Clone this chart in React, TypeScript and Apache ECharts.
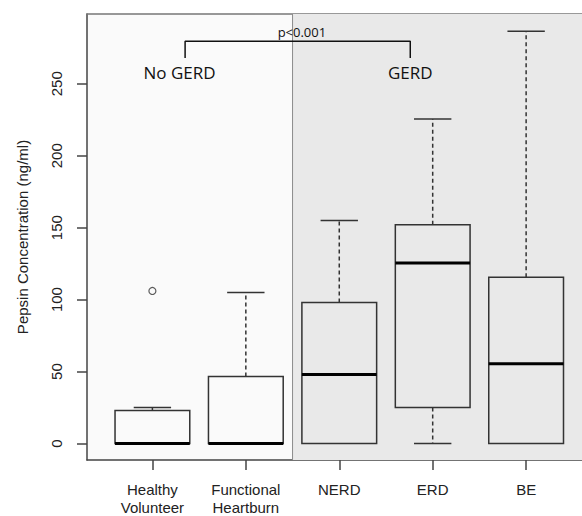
import React, { useEffect, useRef } from "react";
import * as echarts from "echarts";

const categories = ["Healthy\nVolunteer", "Functional\nHeartburn", "NERD", "ERD", "BE"];
const positions = [1, 2, 3, 4, 5];
const whiskerLow = [0, 0, 0, 0, 0];
const q1 = [0, 0, 0, 25, 0];
const median = [0, 0, 48, 125.5, 55.5];
const q3 = [23, 46.5, 98, 152, 115.5];
const whiskerHigh = [25, 105, 155, 225.5, 286.5];
const outlierX = [1];
const outlierY = [106];
const yTicks = [0, 50, 100, 150, 200, 250];
const bracketX = [1.35, 1.35, 3.76, 3.76];
const bracketY = [268, 279.5, 279.5, 268];
const groupLabels = ["No GERD", "GERD"];
const groupLabelX = [1.29, 3.76];
const groupLabelY = [257.5, 257.5];
const pLabel = ["p<0.001"];
const pLabelX = [2.6];
const pLabelY = [285.7];
const groupDivider = 2.5;
const xRange = [0.3, 5.598];
const yRange = [-11.48, 298.5];

export default function App() {
  const ref = useRef<HTMLDivElement>(null);
  useEffect(() => {
    if (!ref.current) return;
    const chart = echarts.init(ref.current, null, { renderer: "svg" });
    const boxData = positions.map((p, i) => [p, whiskerLow[i], q1[i], median[i], q3[i], whiskerHigh[i]]);
    const font = "Liberation Sans, Arial, sans-serif";
    const lineColor = "#333";
    chart.setOption({
      animation: false,
      backgroundColor: "#ffffff",
      grid: {
        left: 87,
        top: 14,
        right: 0,
        bottom: 54,
        show: true,
        backgroundColor: "#fafafa",
        borderWidth: 0,
      },
      xAxis: [
        {
          type: "value",
          min: xRange[0],
          max: xRange[1],
          position: "bottom",
          splitLine: { show: false },
          axisLine: { show: true, onZero: false, lineStyle: { color: "#444", width: 1.5 } },
          axisTick: { show: true, length: 10, customValues: positions, lineStyle: { color: "#444", width: 1.5 } },
          axisLabel: {
            show: true,
            customValues: positions,
            formatter: (v: number) => categories[Math.round(v) - 1] ?? "",
            margin: 21,
            color: "#222",
            fontSize: 15,
            lineHeight: 17.5,
            fontFamily: font,
          },
        },
        {
          type: "value",
          min: xRange[0],
          max: xRange[1],
          position: "top",
          splitLine: { show: false },
          axisLine: { show: true, onZero: false, lineStyle: { color: "#777", width: 1.5 } },
          axisTick: { show: false },
          axisLabel: { show: false },
        },
      ],
      yAxis: {
        type: "value",
        min: yRange[0],
        max: yRange[1],
        splitLine: { show: false },
        axisLine: { show: true, onZero: false, lineStyle: { color: "#444", width: 1.5 } },
        axisTick: { show: true, length: 10, customValues: yTicks, lineStyle: { color: "#444", width: 1.5 } },
        axisLabel: {
          show: true,
          customValues: yTicks,
          rotate: 90,
          margin: 23,
          color: "#222",
          fontSize: 15,
          fontFamily: font,
        },
        name: "Pepsin Concentration (ng/ml)",
        nameLocation: "middle",
        nameGap: 57,
        nameTextStyle: { color: "#222", fontSize: 15, fontFamily: font },
      },
      series: [
        {
          type: "custom",
          data: [[groupDivider, yRange[0], xRange[1], yRange[1]]],
          encode: { x: [0, 2], y: [1, 3] },
          silent: true,
          z: 1,
          renderItem: (params: any, api: any) => {
            const p0 = api.coord([api.value(0), api.value(3)]);
            const p1 = api.coord([api.value(2), api.value(1)]);
            return {
              type: "group",
              children: [
                {
                  type: "rect",
                  shape: { x: p0[0], y: p0[1], width: p1[0] - p0[0] + 4, height: p1[1] - p0[1] },
                  style: { fill: "#e9e9e9", stroke: "none" },
                },
                {
                  type: "line",
                  shape: { x1: p0[0], y1: p0[1], x2: p0[0], y2: p1[1] },
                  style: { stroke: "#8a8a8a", lineWidth: 1 },
                },
              ],
            };
          },
        },
        {
          type: "custom",
          data: boxData,
          encode: { x: 0, y: [1, 2, 3, 4, 5] },
          z: 5,
          renderItem: (params: any, api: any) => {
            const x = api.value(0);
            const lo = api.value(1);
            const a = api.value(2);
            const m = api.value(3);
            const b = api.value(4);
            const hi = api.value(5);
            const pLo = api.coord([x, lo]);
            const pA = api.coord([x, a]);
            const pM = api.coord([x, m]);
            const pB = api.coord([x, b]);
            const pHi = api.coord([x, hi]);
            const halfBox = api.size([0.4, 0])[0];
            const halfCap = api.size([0.2, 0])[0];
            const cx = pA[0];
            const children: any[] = [];
            const dash = { stroke: lineColor, lineWidth: 1.5, lineDash: [4, 3] };
            const solid = { stroke: lineColor, lineWidth: 1.5 };
            if (hi > b) {
              children.push({ type: "line", shape: { x1: cx, y1: pB[1], x2: cx, y2: pHi[1] }, style: dash });
            }
            children.push({ type: "line", shape: { x1: cx - halfCap, y1: pHi[1], x2: cx + halfCap, y2: pHi[1] }, style: solid });
            if (lo < a) {
              children.push({ type: "line", shape: { x1: cx, y1: pA[1], x2: cx, y2: pLo[1] }, style: dash });
              children.push({ type: "line", shape: { x1: cx - halfCap, y1: pLo[1], x2: cx + halfCap, y2: pLo[1] }, style: solid });
            }
            children.push({
              type: "rect",
              shape: { x: cx - halfBox, y: pB[1], width: halfBox * 2, height: pA[1] - pB[1] },
              style: { fill: "none", stroke: lineColor, lineWidth: 1.5 },
            });
            children.push({
              type: "line",
              shape: { x1: cx - halfBox, y1: pM[1], x2: cx + halfBox, y2: pM[1] },
              style: { stroke: "#000", lineWidth: 3 },
            });
            return { type: "group", children };
          },
        },
        {
          type: "scatter",
          data: outlierX.map((x, i) => [x, outlierY[i]]),
          symbol: "circle",
          symbolSize: 7,
          z: 6,
          itemStyle: { color: "rgba(0,0,0,0)", borderColor: lineColor, borderWidth: 1.2 },
        },
        {
          type: "line",
          data: bracketX.map((x, i) => [x, bracketY[i]]),
          symbol: "none",
          z: 6,
          lineStyle: { color: "#111", width: 1.5 },
        },
        {
          type: "custom",
          z: 7,
          data: groupLabels.map((t, i) => [groupLabelX[i], groupLabelY[i], t]),
          encode: { x: 0, y: 1 },
          renderItem: (params: any, api: any) => {
            const p = api.coord([api.value(0), api.value(1)]);
            return {
              type: "text",
              x: p[0],
              y: p[1],
              style: {
                text: groupLabels[params.dataIndex],
                fill: "#111",
                font: "17px 'Open Sans', sans-serif",
                align: "center",
                verticalAlign: "middle",
              },
            };
          },
        },
        {
          type: "custom",
          z: 7,
          data: pLabel.map((t, i) => [pLabelX[i], pLabelY[i], t]),
          encode: { x: 0, y: 1 },
          renderItem: (params: any, api: any) => {
            const p = api.coord([api.value(0), api.value(1)]);
            return {
              type: "text",
              x: p[0],
              y: p[1],
              style: {
                text: pLabel[params.dataIndex],
                fill: "#111",
                font: "13px 'Open Sans', sans-serif",
                align: "center",
                verticalAlign: "middle",
              },
            };
          },
        },
      ],
    });
    return () => chart.dispose();
  }, []);
  return (
    <div
      ref={ref}
      style={{ position: "absolute", left: 0, top: 0, width: 582, height: 516 }}
    />
  );
}
